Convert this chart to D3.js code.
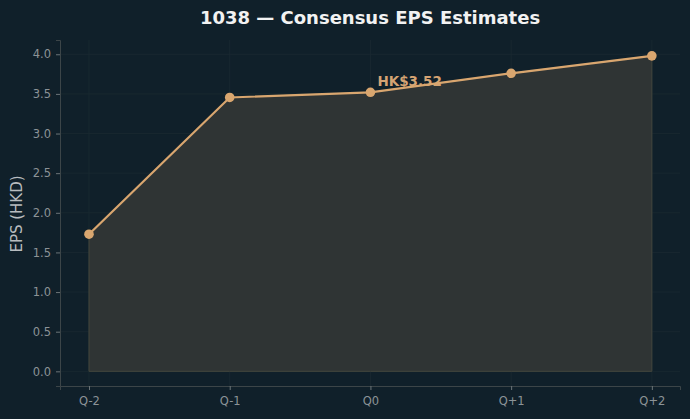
<!DOCTYPE html>
<html><head><meta charset="utf-8">
<script src="https://cdn.jsdelivr.net/npm/d3@7"></script>
<style>body{margin:0;background:#10202a;}svg{display:block;}</style>
</head><body><svg id="c" width="690" height="419"></svg>
<script>
const categories = ["Q-2","Q-1","Q0","Q+1","Q+2"];
const eps = [1.73, 3.455, 3.52, 3.76, 3.98];
const yTicks = [0,0.5,1.0,1.5,2.0,2.5,3.0,3.5,4.0];
const annotation = {index: 2, text: "HK$3.52"};

const svg = d3.select("#c");
const W=690,H=419, m={l:60,r:10,t:40,b:33};
svg.append("rect").attr("width",W).attr("height",H).attr("fill","#10202a");
const x = d3.scaleLinear().domain([-0.206, categories.length-1+0.2]).range([m.l, W-m.r]);
const y = d3.scaleLinear().domain([-0.185, 4.18]).range([H-m.b, m.t]);
const font = "DejaVu Sans, sans-serif";

// grid
const g = svg.append("g");
g.selectAll(".gy").data(yTicks).join("line").attr("x1",m.l).attr("x2",W-m.r)
 .attr("y1",d=>y(d)).attr("y2",d=>y(d)).attr("stroke","#1a2a31").attr("stroke-width",0.8);
g.selectAll(".gx").data(categories).join("line").attr("y1",m.t).attr("y2",H-m.b)
 .attr("x1",(d,i)=>x(i)).attr("x2",(d,i)=>x(i)).attr("stroke","#1a2a31").attr("stroke-width",0.8);

// area
const area = d3.area().x((d,i)=>x(i)).y0(y(0)).y1(d=>y(d));
svg.append("path").datum(eps).attr("d",area).attr("fill","#2f3434").attr("stroke","#44463d").attr("stroke-width",1);

// annotation
svg.append("text").attr("x",x(annotation.index)+7).attr("y",y(eps[annotation.index])-6)
 .attr("fill","#d4a373").attr("font-family",font).attr("font-weight","bold").attr("font-size",13.5)
 .text(annotation.text);

// line
const line = d3.line().x((d,i)=>x(i)).y(d=>y(d));
svg.append("path").datum(eps).attr("d",line).attr("fill","none").attr("stroke","#d9a66f").attr("stroke-width",2.2);
svg.selectAll(".pt").data(eps).join("circle").attr("cx",(d,i)=>x(i)).attr("cy",d=>y(d)).attr("r",4.8).attr("fill","#d9a66f");

// axes
const ax = svg.append("g").attr("transform",`translate(0,${H-m.b})`)
 .call(d3.axisBottom(x).tickValues(d3.range(categories.length)).tickFormat(i=>categories[i]).tickSize(4).tickPadding(7));
const ay = svg.append("g").attr("transform",`translate(${m.l},0)`)
 .call(d3.axisLeft(y).tickValues(yTicks).tickFormat(d3.format(".1f")).tickSize(4).tickPadding(5));
[ax,ay].forEach(a=>{
  a.select(".domain").attr("stroke","#3c4548");
  a.selectAll(".tick line").attr("stroke","#6b7478");
  a.selectAll("text").attr("fill","#8c9397").attr("font-family",font).attr("font-size",11.5);
});

svg.append("text").attr("x",370).attr("y",24).attr("text-anchor","middle")
 .attr("fill","#f2f2f2").attr("font-family",font).attr("font-weight","bold").attr("font-size",18)
 .text("1038 — Consensus EPS Estimates");
svg.append("text").attr("transform",`translate(22,${(m.t+H-m.b)/2+1}) rotate(-90)`).attr("text-anchor","middle")
 .attr("fill","#b8bcbf").attr("font-family",font).attr("font-size",15).text("EPS (HKD)");
</script></body></html>
